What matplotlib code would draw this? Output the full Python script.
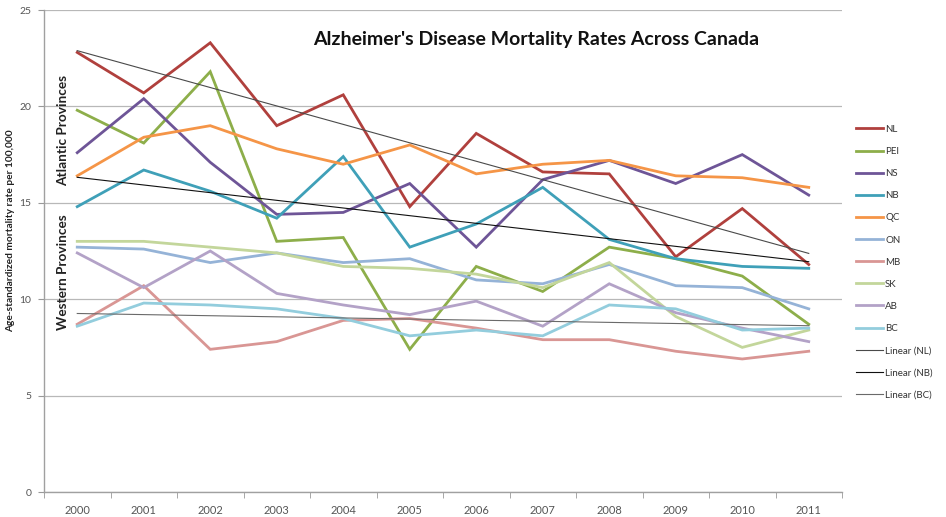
import numpy as np
import matplotlib
matplotlib.use("Agg")
import matplotlib.pyplot as plt

plt.rcParams['font.family'] = ['Lato', 'DejaVu Sans']

years = ["2000", "2001", "2002", "2003", "2004", "2005", "2006", "2007", "2008", "2009", "2010", "2011"]

NL  = [22.8, 20.7, 23.3, 19.0, 20.6, 14.8, 18.6, 16.6, 16.5, 12.2, 14.7, 11.8]
PEI = [19.8, 18.1, 21.8, 13.0, 13.2, 7.4, 11.7, 10.4, 12.7, 12.1, 11.2, 8.7]
NS  = [17.6, 20.4, 17.1, 14.4, 14.5, 16.0, 12.7, 16.2, 17.2, 16.0, 17.5, 15.4]
NB  = [14.8, 16.7, 15.6, 14.2, 17.4, 12.7, 13.9, 15.8, 13.1, 12.1, 11.7, 11.6]
QC  = [16.4, 18.4, 19.0, 17.8, 17.0, 18.0, 16.5, 17.0, 17.2, 16.4, 16.3, 15.8]
ON  = [12.7, 12.6, 11.9, 12.4, 11.9, 12.1, 11.0, 10.8, 11.8, 10.7, 10.6, 9.5]
MB  = [8.7, 10.7, 7.4, 7.8, 8.9, 9.0, 8.5, 7.9, 7.9, 7.3, 6.9, 7.3]
SK  = [13.0, 13.0, 12.7, 12.4, 11.7, 11.6, 11.3, 10.6, 11.9, 9.1, 7.5, 8.4]
AB  = [12.4, 10.6, 12.5, 10.3, 9.7, 9.2, 9.9, 8.6, 10.8, 9.3, 8.5, 7.8]
BC  = [8.6, 9.8, 9.7, 9.5, 9.0, 8.1, 8.4, 8.1, 9.7, 9.5, 8.4, 8.5]

series_names = ["NL", "PEI", "NS", "NB", "QC", "ON", "MB", "SK", "AB", "BC"]
series_values = [NL, PEI, NS, NB, QC, ON, MB, SK, AB, BC]
series_colors = ["#B0403D", "#8DAE4A", "#6E5597", "#3FA0B8", "#F59547",
                 "#95B3D7", "#D99694", "#C3D69B", "#B3A2C7", "#93CDDD"]
trend_names = ["NL", "NB", "BC"]
trend_colors = ["#4a4a4a", "#111111", "#6a6a6a"]

fig = plt.figure(figsize=(9.46, 5.17), dpi=100)
ax = fig.add_axes([44/946, 25/517, (842-44)/946, (492-10)/517])

x = np.arange(len(years))
handles = []
for name, vals, col in zip(series_names, series_values, series_colors):
    ln, = ax.plot(x, vals, color=col, lw=2.0, label=name, solid_joinstyle='miter')
    handles.append(ln)

lookup = dict(zip(series_names, series_values))
for name, col in zip(trend_names, trend_colors):
    k, b = np.polyfit(x, lookup[name], 1)
    ln, = ax.plot(x, k * x + b, color=col, lw=0.8, label=f"Linear ({name})")
    handles.append(ln)

ax.set_xlim(-0.5, len(years) - 0.5)
ax.set_ylim(0, 25)
ax.set_yticks([0, 5, 10, 15, 20, 25])
ax.set_xticks(x)
ax.set_xticklabels(years)
ax.set_xticks(np.arange(-0.5, len(years), 1.0), minor=True)
ax.tick_params(axis='x', which='major', length=0, pad=9, labelsize=8, labelcolor="#555555")
ax.tick_params(axis='x', which='minor', length=4, color="#999999", direction='out')
ax.tick_params(axis='y', length=4, color="#999999", labelsize=7.5, labelcolor="#555555", pad=5)
ax.grid(axis='y', color="#B8B8B8", lw=0.9)
ax.set_axisbelow(True)
for s in ['top', 'right']:
    ax.spines[s].set_visible(False)
for s in ['left', 'bottom']:
    ax.spines[s].set_color("#A0A0A0")
    ax.spines[s].set_linewidth(1.0)

fig.text(536/946, 1 - 40/517, "Alzheimer's Disease Mortality Rates Across Canada",
         ha='center', va='center', fontsize=14, fontweight='bold', color="#111111")
fig.text(11/946, 1 - 231/517, "Age-standardized mortality rate per 100,000",
         rotation=90, ha='center', va='center', fontsize=7.3, fontweight='bold', color="#222222")
fig.text(63/946, 1 - 131/517, "Atlantic Provinces", rotation=90, ha='center', va='center',
         fontsize=9.8, fontweight='bold', color="#222222")
fig.text(63/946, 1 - 272/517, "Western Provinces", rotation=90, ha='center', va='center',
         fontsize=9.8, fontweight='bold', color="#222222")

leg = fig.legend(handles=handles, loc='upper left', bbox_to_anchor=(852/946, 1 - 121/517),
                 frameon=False, fontsize=7, handlelength=2.8, handletextpad=0.2,
                 labelspacing=1.35, borderaxespad=0)
for t in leg.get_texts():
    t.set_color("#333333")

fig.savefig("out.png", dpi=100)
